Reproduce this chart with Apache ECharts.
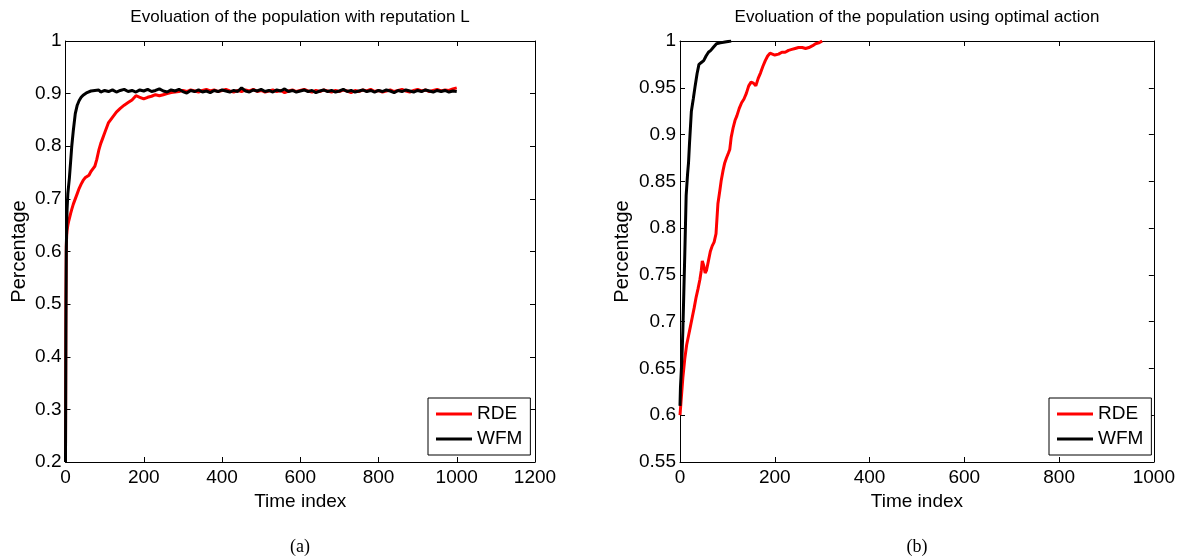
<!DOCTYPE html>
<html>
<head>
<meta charset="utf-8">
<script src="https://cdn.jsdelivr.net/npm/echarts@6/dist/echarts.min.js"></script>
<style>html,body{margin:0;padding:0;background:#fff;}#c{width:1178px;height:559px;}</style>
</head>
<body>
<div id="c"></div>
<script>
// ---- data ----
const seriesNames = ['RDE', 'WFM'];
const leftTitle = 'Evoluation of the population with reputation L';
const rightTitle = 'Evoluation of the population using optimal action';
const leftXTicks = [0, 200, 400, 600, 800, 1000, 1200];
const rightXTicks = [0, 200, 400, 600, 800, 1000];
const leftYTicks = [0.2, 0.3, 0.4, 0.5, 0.6, 0.7, 0.8, 0.9, 1];
const rightYTicks = [0.55, 0.6, 0.65, 0.7, 0.75, 0.8, 0.85, 0.9, 0.95, 1];

const leftT = [0,1,2,3,4,6,8,10,13,16,20,25,30,35,40,45,50,55,60,65,70,75,80,85,90,95,100,
  110,120,130,140,150,160,170,180,190,200,210,220,230,240,250,260,270,280,290,300,
  310,320,330,340,350,360,370,380,390,400,410,420,430,440,450,460,470,480,490,500,
  510,520,530,540,550,560,570,580,590,600,610,620,630,640,650,660,670,680,690,700,
  710,720,730,740,750,760,770,780,790,800,810,820,830,840,850,860,870,880,890,900,
  910,920,930,940,950,960,970,980,990,1000];
const leftRde = [0.2,0.5,0.61,0.63,0.64,0.65,0.657,0.663,0.672,0.68,0.69,0.7,0.71,0.72,0.728,0.735,0.74,0.738,0.745,0.752,0.757,0.762,0.775,0.792,0.805,0.815,0.825,
  0.845,0.855,0.865,0.872,0.878,0.883,0.888,0.896,0.893,0.89,0.893,0.895,0.898,0.896,0.898,0.9,0.902,0.903,0.904,0.906,
  0.904,0.907,0.905,0.903,0.906,0.908,0.905,0.907,0.904,0.906,0.908,0.905,0.903,0.906,0.904,0.907,0.905,0.908,0.904,0.906,
  0.903,0.905,0.907,0.904,0.906,0.902,0.905,0.907,0.904,0.906,0.908,0.905,0.903,0.906,0.904,0.907,0.905,0.903,0.906,0.904,
  0.907,0.905,0.902,0.906,0.904,0.907,0.905,0.908,0.904,0.906,0.903,0.905,0.907,0.904,0.906,0.908,0.905,0.903,0.906,0.908,
  0.905,0.907,0.904,0.906,0.908,0.905,0.907,0.906,0.909,0.911];
const leftWfm = [0.2,0.45,0.6,0.65,0.68,0.71,0.725,0.74,0.77,0.8,0.83,0.862,0.878,0.887,0.893,0.897,0.9,0.902,0.903,0.905,0.903,0.906,0.904,0.907,0.903,0.905,0.906,
  0.904,0.907,0.903,0.906,0.908,0.904,0.906,0.903,0.907,0.905,0.908,0.904,0.906,0.909,0.905,0.903,0.907,0.905,0.908,0.904,
  0.901,0.906,0.904,0.907,0.903,0.905,0.902,0.906,0.904,0.907,0.905,0.903,0.906,0.904,0.911,0.905,0.903,0.907,0.905,0.908,
  0.904,0.906,0.903,0.907,0.905,0.909,0.904,0.906,0.903,0.905,0.907,0.904,0.906,0.902,0.905,0.907,0.904,0.906,0.903,0.905,
  0.908,0.904,0.906,0.903,0.905,0.907,0.904,0.906,0.903,0.906,0.904,0.907,0.905,0.902,0.906,0.904,0.907,0.905,0.903,0.906,
  0.904,0.907,0.905,0.903,0.906,0.904,0.906,0.903,0.905,0.904];

const rightRdeT = [0,3,6,10,14,18,22,26,30,34,38,42,45,47,50,53,56,60,64,68,72,76,78,80,84,87,91,94,98,102,105,108,112,116,120,125,130,135,140,145,150,155,160,165,170,175,180,185,190,195,200,208,215,222,229,236,243,250,258,265,272,280,286,293,300];
const rightRdeV = [0.6,0.62,0.64,0.66,0.675,0.685,0.695,0.705,0.715,0.726,0.735,0.745,0.755,0.765,0.76,0.752,0.755,0.765,0.775,0.781,0.785,0.794,0.81,0.826,0.84,0.851,0.862,0.869,0.875,0.88,0.884,0.897,0.907,0.915,0.92,0.928,0.934,0.938,0.944,0.952,0.956,0.955,0.952,0.96,0.966,0.973,0.979,0.984,0.987,0.986,0.985,0.986,0.988,0.988,0.99,0.991,0.992,0.993,0.993,0.992,0.993,0.995,0.997,0.998,1.0];
const rightWfmT = [0,1,2,4,6,8,10,13,16,18,20,24,28,32,36,40,45,50,55,60,65,70,77,85,95,108];
const rightWfmV = [0.61,0.63,0.64,0.66,0.69,0.73,0.77,0.835,0.858,0.87,0.89,0.925,0.938,0.952,0.965,0.975,0.977,0.979,0.984,0.988,0.99,0.993,0.997,0.998,0.999,1.0];

// ---- chart ----
const FONT = 'Liberation Sans';
const chart = echarts.init(document.getElementById('c'), null, {renderer: 'canvas'});

function pairs(t, v) { return t.map((x, i) => [x, v[i]]); }
function plainNum(v) { return String(parseFloat(Number(v).toFixed(3))); }

function xAxisDef(grid, ticks, pos) {
  const main = pos === 'bottom';
  return {
    type: 'value', gridIndex: grid, position: pos,
    min: ticks[0], max: ticks[ticks.length - 1], interval: ticks[1] - ticks[0],
    splitLine: {show: false},
    axisLine: {show: true, onZero: false, lineStyle: {color: '#000', width: 1}},
    axisTick: {show: true, inside: true, length: 5, lineStyle: {color: '#000'}},
    axisLabel: {show: main, color: '#000', fontSize: 19, fontFamily: FONT, margin: 6, formatter: plainNum},
    name: main ? 'Time index' : '',
    nameLocation: 'middle', nameGap: 30,
    nameTextStyle: {color: '#000', fontSize: 19, fontFamily: FONT}
  };
}
function yAxisDef(grid, ticks, pos, gap) {
  const main = pos === 'left';
  return {
    type: 'value', gridIndex: grid, position: pos,
    min: ticks[0], max: ticks[ticks.length - 1], interval: Math.round((ticks[1] - ticks[0]) * 1000) / 1000,
    splitLine: {show: false},
    axisLine: {show: true, onZero: false, lineStyle: {color: '#000', width: 1}},
    axisTick: {show: true, inside: true, length: 5, lineStyle: {color: '#000'}},
    axisLabel: {show: main, color: '#000', fontSize: 19, fontFamily: FONT, margin: 4, formatter: plainNum},
    name: main ? 'Percentage' : '',
    nameLocation: 'middle', nameGap: gap,
    nameTextStyle: {color: '#000', fontSize: 20, fontFamily: FONT}
  };
}
function legendDef(left) {
  return {
    data: seriesNames, orient: 'vertical', left: left, top: 398,
    icon: 'rect', itemWidth: 36, itemHeight: 3, itemGap: 3,
    padding: [5, 8, 5, 8], borderColor: '#000', borderWidth: 1, borderRadius: 0,
    backgroundColor: '#fff',
    textStyle: {color: '#000', fontSize: 19, fontFamily: FONT, lineHeight: 22}
  };
}
function lineSeries(name, color, xi, yi, data) {
  return {
    name: name, type: 'line', xAxisIndex: xi, yAxisIndex: yi, data: data,
    showSymbol: false, symbol: 'none', clip: true, animation: false,
    lineStyle: {color: color, width: 3}, itemStyle: {color: color}
  };
}

const option = {
  backgroundColor: '#fff',
  animation: false,
  grid: [
    {left: 65.5, right: 643, top: 41, bottom: 97},
    {left: 680, right: 23, top: 41, bottom: 97}
  ],
  xAxis: [
    xAxisDef(0, leftXTicks, 'bottom'),
    xAxisDef(1, rightXTicks, 'bottom'),
    xAxisDef(0, leftXTicks, 'top'),
    xAxisDef(1, rightXTicks, 'top')
  ],
  yAxis: [
    yAxisDef(0, leftYTicks, 'left', 36),
    yAxisDef(1, rightYTicks, 'left', 48),
    yAxisDef(0, leftYTicks, 'right', 0),
    yAxisDef(1, rightYTicks, 'right', 0)
  ],
  legend: [legendDef(428), legendDef(1049)],
  series: [
    lineSeries('RDE', '#ff0000', 0, 0, pairs(leftT, leftRde)),
    lineSeries('WFM', '#000000', 0, 0, pairs(leftT, leftWfm)),
    lineSeries('RDE', '#ff0000', 1, 1, pairs(rightRdeT, rightRdeV)),
    lineSeries('WFM', '#000000', 1, 1, pairs(rightWfmT, rightWfmV))
  ],
  graphic: [
    {type: 'text', x: 300, y: 17, style: {text: leftTitle, fill: '#000', fontSize: 17, fontFamily: FONT, align: 'center', verticalAlign: 'middle'}},
    {type: 'text', x: 917, y: 17, style: {text: rightTitle, fill: '#000', fontSize: 17, fontFamily: FONT, align: 'center', verticalAlign: 'middle'}},
    {type: 'text', x: 300, y: 547, style: {text: '(a)', fill: '#000', fontSize: 18, fontFamily: 'Liberation Serif', align: 'center', verticalAlign: 'middle'}},
    {type: 'text', x: 917, y: 547, style: {text: '(b)', fill: '#000', fontSize: 18, fontFamily: 'Liberation Serif', align: 'center', verticalAlign: 'middle'}}
  ]
};
chart.setOption(option);
</script>
</body>
</html>
